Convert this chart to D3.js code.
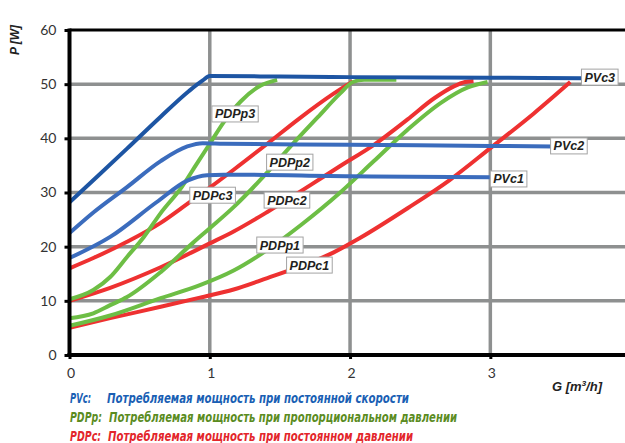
<!DOCTYPE html>
<html>
<head>
<meta charset="utf-8">
<script src="https://cdn.jsdelivr.net/npm/d3@7"></script>
<style>
  html, body { margin: 0; padding: 0; background: #fff; }
  svg { display: block; }
</style>
</head>
<body>
<svg id="chart" width="625" height="443"></svg>
<script>
// Flow G [m³/h] vs power P [W] for each pump curve
const pvc3 = [[0,28.2],[0.2,33.0],[0.41,38.1],[0.65,44.0],[0.85,48.7],[0.95,50.7],[1.0,51.5],[1.5,51.4],[2.0,51.3],[3.0,51.2],[3.66,51.1]];
const pvc2 = [[0,22.5],[0.17,26.3],[0.41,31.0],[0.65,35.8],[0.84,38.5],[0.95,39.1],[1.1,39.0],[2.0,38.8],[3.0,38.6],[3.45,38.5]];
const pvc1 = [[0,17.9],[0.29,21.8],[0.62,28.2],[0.84,32.2],[0.98,33.2],[1.1,33.3],[2.0,33.0],[3.0,32.8],[3.26,32.8]];
const pdpp3 = [[0,10.3],[0.17,12.0],[0.29,14.4],[0.41,18.1],[0.53,21.8],[0.65,26.2],[0.8,31.0],[0.9,35.0],[1.0,39.0],[1.1,43.0],[1.22,46.8],[1.36,49.7],[1.48,50.8]];
const pdpp2 = [[0,6.8],[0.17,7.7],[0.29,9.2],[0.41,10.7],[0.65,15.3],[0.88,20.7],[1.0,23.4],[1.17,27.3],[1.41,33.7],[1.6,39.2],[1.77,43.9],[1.93,48.3],[2.02,50.4],[2.1,50.8],[2.33,50.8]];
const pdpp1 = [[0,5.4],[0.29,7.3],[0.65,10.5],[0.93,12.9],[1.17,15.6],[1.41,19.4],[1.65,24.0],[1.93,30.0],[2.17,35.8],[2.41,41.6],[2.65,46.6],[2.84,49.4],[2.98,50.4]];
const pdpc3 = [[0,16.0],[0.17,17.9],[0.41,20.9],[0.65,24.4],[0.84,27.9],[1.0,30.9],[1.17,34.2],[1.41,39.0],[1.64,43.7],[1.88,48.2],[2.02,50.5]];
const pdpc2 = [[0,10.0],[0.29,12.4],[0.65,16.2],[1.0,20.6],[1.17,22.8],[1.41,26.4],[1.72,31.4],[1.93,34.9],[2.17,38.8],[2.41,43.5],[2.6,47.4],[2.74,49.6],[2.82,50.4],[2.88,50.6]];
const pdpc1 = [[0,5.0],[0.29,6.8],[0.65,8.9],[0.93,10.6],[1.17,12.1],[1.41,14.2],[1.64,16.3],[1.88,18.9],[2.07,21.6],[2.41,27.1],[2.71,32.3],[3.0,38.2],[3.31,44.6],[3.57,50.4]];

const xTicks = [0, 1, 2, 3];
const yTicks = [0, 10, 20, 30, 40, 50, 60];

const seriesNames = ["PDPc1","PDPc2","PDPc3","PDPp1","PDPp2","PDPp3","PVc1","PVc2","PVc3"];
const seriesData  = [pdpc1, pdpc2, pdpc3, pdpp1, pdpp2, pdpp3, pvc1, pvc2, pvc3];

// Curve name tags, anchored in data units [G, P]
const tagNames = ["PVc3","PVc2","PVc1","PDPp3","PDPp2","PDPc3","PDPc2","PDPp1","PDPc1"];
const tagAt    = [[3.78,51.3],[3.56,38.6],[3.13,32.5],[1.18,44.5],[1.57,35.6],[1.02,29.5],[1.55,28.6],[1.5,20.3],[1.71,16.6]];

const legendCodes = ["PVc:", "PDPp:", "PDPc:"];
const legendTexts = [
  "Потребляемая мощность при постоянной скорости",
  "Потребляемая мощность при пропорциональном давлении",
  "Потребляемая мощность при постоянном давлении"
];

const colorOf = name => {
  if (name === "PVc3") return "#1d55a3";
  if (name.startsWith("PVc")) return "#3b6cbd";
  if (name.startsWith("PDPp")) return "#6dbe45";
  return "#ee3131";
};

const svg = d3.select("#chart");
const x = d3.scaleLinear().domain([0, 3.96]).range([69.5, 625]);
const y = d3.scaleLinear().domain([0, 60]).range([355, 30]);

// grid
const grid = svg.append("g");
grid.selectAll("line.h").data(yTicks.filter(v => v > 0 && v < 60)).join("line")
  .attr("x1", x(0)).attr("x2", 625)
  .attr("y1", d => y(d)).attr("y2", d => y(d))
  .attr("stroke", "#8e9090").attr("stroke-width", 3.5);
grid.selectAll("line.v").data(xTicks.filter(v => v > 0)).join("line")
  .attr("x1", d => x(d)).attr("x2", d => x(d))
  .attr("y1", y(0)).attr("y2", y(60))
  .attr("stroke", "#8e9090").attr("stroke-width", 3.5);
grid.append("line")
  .attr("x1", x(0)).attr("x2", 625).attr("y1", y(60)).attr("y2", y(60))
  .attr("stroke", "#000").attr("stroke-width", 3);

// curves
const line = d3.line().x(d => x(d[0])).y(d => y(d[1])).curve(d3.curveMonotoneX);
svg.append("g").selectAll("path").data(seriesData).join("path")
  .attr("d", line)
  .attr("fill", "none")
  .attr("stroke", (d, i) => colorOf(seriesNames[i]))
  .attr("stroke-width", 4);

// axes
const tickFont = "Lato, 'Open Sans', sans-serif";
const yAxis = svg.append("g").attr("transform", `translate(${x(0)},0)`)
  .call(d3.axisLeft(y).tickValues(yTicks).tickSize(5).tickSizeOuter(0).tickPadding(8));
const xAxis = svg.append("g").attr("transform", `translate(0,${y(0)})`)
  .call(d3.axisBottom(x).tickValues(xTicks).tickFormat(d3.format("d")).tickSize(4).tickSizeOuter(0).tickPadding(9));
xAxis.select(".domain").remove();
yAxis.select(".domain").remove();
[yAxis, xAxis].forEach(a => {
  a.selectAll(".tick line").attr("stroke", "#000").attr("stroke-width", 3);
  a.selectAll(".tick text").attr("fill", "#333").style("font-family", tickFont).style("font-size", "14px");
});
xAxis.selectAll(".tick text").attr("dx", "1");
svg.append("line").attr("x1", x(0)).attr("x2", x(0)).attr("y1", y(60) - 1.5).attr("y2", y(0) + 2)
  .attr("stroke", "#000").attr("stroke-width", 4);
svg.append("line").attr("x1", x(0) - 2).attr("x2", 625).attr("y1", y(0)).attr("y2", y(0))
  .attr("stroke", "#000").attr("stroke-width", 4);

// axis titles
const titleFont = "'Liberation Sans', Arial, sans-serif";
svg.append("text").attr("transform", "translate(19,40) rotate(-90)")
  .attr("text-anchor", "middle")
  .style("font-family", titleFont).style("font-size", "12px")
  .style("font-weight", "bold").style("font-style", "italic").attr("fill", "#222")
  .text("P [W]");
const gTitle = svg.append("text").attr("x", 552).attr("y", 391)
  .style("font-family", titleFont).style("font-size", "13px")
  .style("font-weight", "bold").style("font-style", "italic").attr("fill", "#222");
gTitle.append("tspan").text("G  [m");
gTitle.append("tspan").attr("font-size", "8px").attr("dy", "-5").text("3");
gTitle.append("tspan").attr("dy", "5").text("/h]");

// curve tags
const tags = svg.append("g").selectAll("g").data(tagNames).join("g")
  .attr("transform", (d, i) => `translate(${x(tagAt[i][0])},${y(tagAt[i][1])})`);
tags.append("rect").attr("fill", "#fff").attr("stroke", "#a3a3a3").attr("stroke-width", 1);
tags.append("text")
  .attr("text-anchor", "middle").attr("dy", "0.36em")
  .style("font-family", titleFont).style("font-size", "12.5px")
  .style("font-weight", "bold").style("font-style", "italic").attr("fill", "#231f20")
  .text(d => d);
tags.each(function() {
  const g = d3.select(this);
  const b = g.select("text").node().getBBox();
  g.select("rect").attr("x", b.x - 3).attr("y", -8).attr("width", b.width + 6).attr("height", 16);
});

// legend
const legendColors = ["#1a5fb4", "#5b8c1f", "#e3262b"];
const codeEnds = [91, 102, 101];
const legendStarts = [107, 109, 108];
const legendEnds = [409, 457, 413];
const legendFont = "'Liberation Sans Narrow', 'DejaVu Sans Condensed', 'Liberation Sans', sans-serif";
legendCodes.forEach((code, i) => {
  const by = 403 + i * 19;
  const style = s => s.style("font-family", legendFont).style("font-size", "14px")
    .style("font-weight", "bold").style("font-style", "italic")
    .attr("fill", legendColors[i]).attr("lengthAdjust", "spacingAndGlyphs");
  svg.append("text").attr("x", 70).attr("y", by).call(style)
    .attr("textLength", codeEnds[i] - 70).text(code);
  svg.append("text").attr("x", legendStarts[i]).attr("y", by).call(style)
    .attr("textLength", legendEnds[i] - legendStarts[i]).text(legendTexts[i]);
});
</script>
</body>
</html>
